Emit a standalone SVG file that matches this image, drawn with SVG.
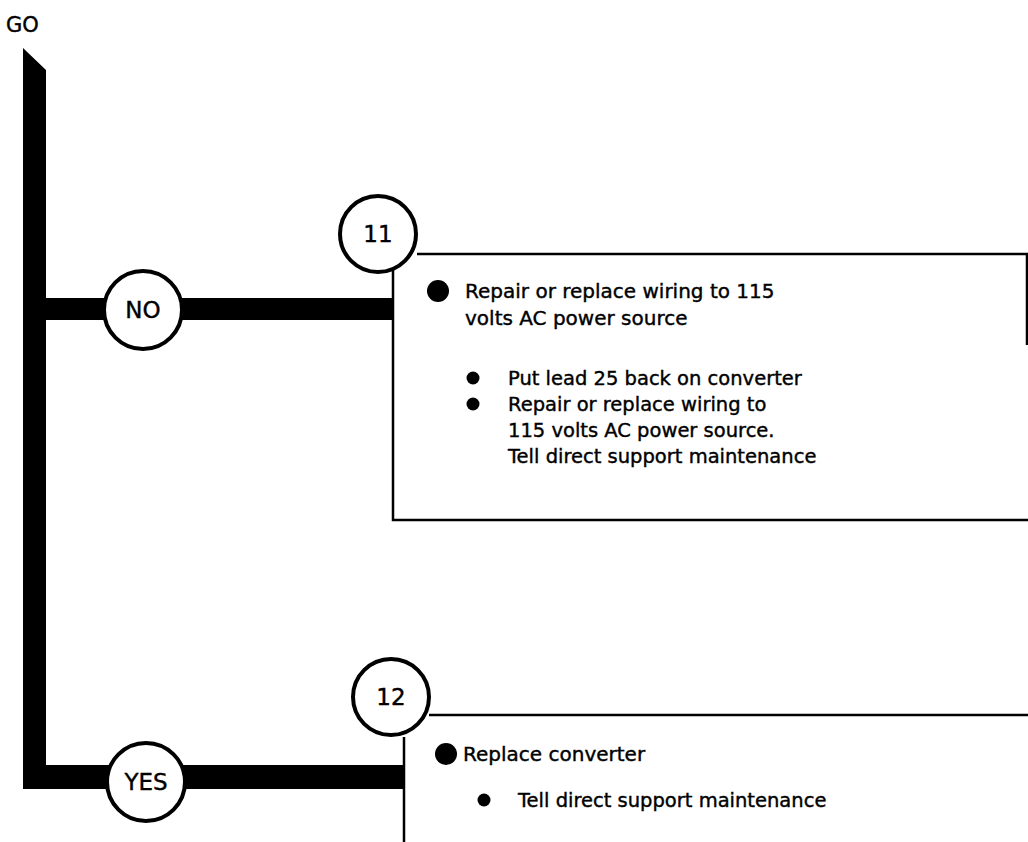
<svg xmlns="http://www.w3.org/2000/svg" width="1028" height="842" viewBox="0 0 1028 842">
<style>
text{font-family:"DejaVu Sans","Liberation Sans",sans-serif;fill:#000;stroke:#000;stroke-width:0.4}
.lbl{font-size:23px;text-anchor:middle}
.main{font-size:20px}
.sub{font-size:19.5px}
.circ{fill:#fff;stroke:#000;stroke-width:4}
.box{fill:none;stroke:#000;stroke-width:2.5}
</style>
<rect width="1028" height="842" fill="#fff"/>
<g id="connectors">
<path d="M23,48 L46,70 L46,298 L393,298 L393,320 L46,320 L46,765 L404,765 L404,789 L23,789 Z" fill="#000"/>
</g>
<g id="go"><text x="6" y="32" font-size="21px">GO</text></g>
<g id="no">
<circle class="circ" cx="143" cy="310" r="39"/>
<text class="lbl" x="143" y="318">NO</text>
</g>
<g id="yes">
<circle class="circ" cx="146" cy="782" r="39"/>
<text class="lbl" x="146" y="790">YES</text>
</g>
<g id="step11">
<path class="box" d="M417,254 L1027,254 L1027,345 M393,270 L393,520 L1028,520"/>
<circle class="circ" cx="378" cy="234" r="38"/>
<text class="lbl" x="378" y="242">11</text>
<circle cx="438" cy="291" r="11"/>
<text class="main" x="465" y="298">Repair or replace wiring to 115</text>
<text class="main" x="465" y="325">volts AC power source</text>
<circle cx="473" cy="378" r="6.5"/>
<text class="sub" x="508" y="385">Put lead 25 back on converter</text>
<circle cx="473" cy="404" r="6.5"/>
<text class="sub" x="508" y="411">Repair or replace wiring to</text>
<text class="sub" x="508" y="437">115 volts AC power source.</text>
<text class="sub" x="508" y="463">Tell direct support maintenance</text>
</g>
<g id="step12">
<path class="box" d="M429,715 L1028,715 M404,737 L404,842"/>
<circle class="circ" cx="391" cy="697" r="38"/>
<text class="lbl" x="391" y="705">12</text>
<circle cx="446" cy="754" r="11"/>
<text class="main" x="463" y="761">Replace converter</text>
<circle cx="484" cy="800" r="6.5"/>
<text class="sub" x="518" y="807">Tell direct support maintenance</text>
</g>
</svg>
